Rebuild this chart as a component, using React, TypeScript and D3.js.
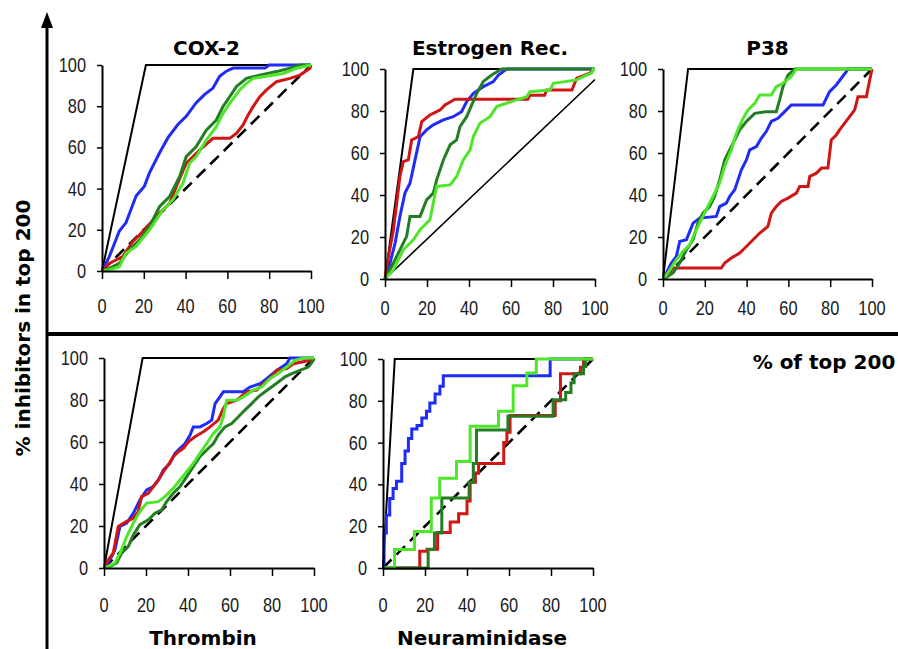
import React, { useEffect, useRef } from "react";
import * as d3 from "d3";

type Pt = [number, number];

const tickValues = [0, 20, 40, 60, 80, 100];
const titles = ["COX-2", "Estrogen Rec.", "P38", "Thrombin", "Neuraminidase"];

// COX-2
const cox2Ideal: Pt[] = [[0, 0], [21, 100], [100, 100]];
const cox2Blue: Pt[] = [[0, 0], [3.5, 7], [8.3, 19.4], [11.5, 23.5], [16.3, 36.4], [20.3, 41.2], [22.7, 47.6], [27.5, 57.3], [31.5, 64.6], [36.3, 71.1], [40.3, 75.1], [45, 81.6], [49, 85.6], [53.1, 88.8], [56.3, 94.5], [59.5, 97], [62.7, 98.5], [78, 98.5], [80, 100], [100, 100]];
const cox2Red: Pt[] = [[0, 0], [3.5, 3.7], [9.9, 7], [14.7, 14.2], [19.5, 19.1], [25.9, 26.4], [32.3, 32.8], [36, 42], [40.3, 52.3], [46.7, 58.7], [53.1, 64.4], [61.1, 64.4], [64.3, 66.8], [67.5, 70.9], [69.9, 75.7], [72.3, 79.8], [75.5, 84.6], [78.7, 87.9], [83.5, 91.9], [89.9, 93.5], [94.7, 95.1], [99.5, 98.4], [100, 100]];
const cox2Dark: Pt[] = [[0, 0], [3.5, 1.3], [8.3, 3.7], [13.1, 10.2], [17.9, 15], [22.7, 21.5], [27.5, 31.2], [32.3, 36.1], [37.1, 45.8], [40.3, 55.5], [45.1, 60.4], [49.9, 68.4], [54.7, 73.3], [57.9, 79.8], [61.1, 84.6], [64.3, 89.5], [69.1, 93.5], [75.5, 95.1], [83.5, 96.8], [89.9, 98.4], [94.7, 100], [100, 100]];
const cox2Light: Pt[] = [[0, 0], [3.5, 0.5], [8.3, 2.1], [11.5, 8.6], [16.3, 11.9], [22.7, 19.9], [29.1, 29.6], [33.9, 34.5], [38.7, 42.6], [41.9, 52.3], [45.1, 55.5], [49.9, 63.6], [54.7, 70.1], [57.9, 76.5], [61.1, 81.4], [65.9, 87.9], [69.1, 91.1], [72.3, 93.5], [77.1, 94.3], [86.7, 95.9], [93.1, 98.4], [100, 100]];

// Estrogen receptor
const esrIdeal: Pt[] = [[0, 0], [13.5, 100], [100, 100]];
const esrRandom: Pt[] = [[0, 0], [100, 95]];
const esrBlue: Pt[] = [[0, 0], [2.4, 7.6], [4.8, 17.1], [7.1, 29.8], [9.5, 40.9], [11.9, 45.6], [14.3, 56.7], [16.7, 67.8], [19.8, 71], [23, 73.4], [27.8, 75.8], [32.5, 77.3], [36.5, 79.7], [38.9, 84.5], [42.1, 88.4], [46.8, 91.6], [51.6, 94], [54, 97.1], [57.9, 100], [100, 100]];
const esrRed: Pt[] = [[0, 0], [0.8, 6], [4, 23.5], [7.1, 48.8], [8.7, 55.9], [11.1, 56.7], [12.7, 66.2], [15.9, 67.8], [17.5, 75], [21.4, 78.1], [26.2, 80.5], [28.6, 82.9], [33.3, 85.6], [68, 85.6], [69, 87.5], [76, 87.5], [77, 90], [89, 90], [91.3, 95.6], [97.6, 98], [99.2, 99.5]];
const esrDark: Pt[] = [[0, 0], [4, 7.6], [7.1, 13.9], [10.3, 20.3], [11.9, 29.8], [16.7, 29.8], [19.8, 37.7], [23, 40.9], [24.6, 47.2], [27.8, 56.7], [31, 63.9], [34.1, 66.2], [35.7, 72.6], [38.9, 77.3], [41.3, 82.9], [43.7, 88.4], [46.8, 94], [50.8, 97.1], [55.6, 100], [100, 100]];
const esrLight: Pt[] = [[0, 0], [4, 4.4], [8.7, 13.9], [13.5, 18.7], [16.7, 23.5], [21.4, 28.2], [24.6, 44.1], [31, 44.8], [34.1, 48.8], [37.3, 56.7], [40.5, 61.5], [42.1, 67.8], [45.2, 74.2], [50, 77.3], [53.2, 82.1], [57.9, 83.7], [62.7, 85.3], [67.5, 86.8], [69, 89.2], [78.6, 90], [80.2, 93.2], [91.3, 94.8], [94.4, 96.4], [98.4, 98], [99.2, 100], [100, 100]];

// P38
const p38Ideal: Pt[] = [[0, 0], [12, 100], [100, 100]];
const p38Blue: Pt[] = [[0, 0], [1.6, 2.9], [4, 7.6], [6.4, 10.8], [8, 17.9], [11.2, 18.7], [12.8, 22.7], [14.4, 26.6], [17.5, 29], [25.5, 29.8], [27.1, 34.5], [30.3, 36.1], [31.9, 39.3], [34.3, 42.5], [35.9, 47.2], [37.5, 52], [39.9, 56.7], [41.5, 61.5], [44.7, 63.1], [47, 67], [49.4, 70.2], [51.8, 75], [55, 76.5], [58.2, 79.7], [61.4, 82.9], [76.6, 82.9], [79.7, 89.2], [82.9, 92.4], [85.3, 95.6], [87.7, 98.7], [88.5, 100], [100, 100]];
const p38Red: Pt[] = [[0, 0], [3.2, 3.6], [4.8, 5.2], [27.9, 5.2], [29.5, 7.6], [32.7, 10], [36.7, 12.4], [39.9, 15.5], [43.1, 18.7], [46.3, 21.9], [50.2, 25], [51.8, 31.4], [54.2, 34.5], [56.6, 36.9], [59.8, 38.5], [63.8, 40.9], [65.4, 44.1], [69.4, 44.1], [70.2, 48.8], [73.4, 50.4], [75.8, 52.8], [78.9, 52.8], [80.5, 66.2], [82.9, 68.6], [84.5, 71], [86.9, 74.2], [89.3, 77.3], [91.7, 80.5], [93.3, 86.8], [97.3, 86.8], [98.9, 94.8], [100, 100]];
const p38Dark: Pt[] = [[0, 0], [2.4, 1.3], [4.8, 2.9], [8, 7.6], [11.2, 13.9], [14.4, 18.7], [16.7, 26.6], [19.1, 31.4], [22.3, 34.5], [24.7, 39.3], [27.1, 47.2], [29.5, 56.7], [31.9, 61.5], [34.3, 66.2], [36.7, 71], [39.9, 75], [43.9, 78.9], [49.4, 79.7], [54.2, 79.7], [55.8, 85.3], [57.4, 91.6], [59.8, 97.1], [63, 100], [100, 100]];
const p38Light: Pt[] = [[0, 0], [2.4, 2.9], [6.4, 9.2], [9.6, 13.2], [12.8, 16.3], [15.2, 21.9], [17.5, 26.6], [20.7, 33], [23.9, 39.3], [27.1, 45.6], [29.5, 53.6], [32.7, 61.5], [35.1, 69.4], [38.3, 76.5], [40.7, 80.5], [43.9, 83.7], [46.3, 87.6], [51.8, 87.6], [54.2, 91.6], [57.4, 93.2], [61.4, 96.4], [63.8, 100], [100, 100]];

// Thrombin
const thrIdeal: Pt[] = [[0, 0], [18.4, 100], [100, 100]];
const thrBlue: Pt[] = [[0, 0], [2.9, 4], [5.2, 8.7], [7.6, 19.8], [10.8, 21.4], [14, 26.1], [17.1, 32.4], [20.3, 37.2], [23.5, 38.8], [25.9, 41.9], [28.3, 46.7], [31.4, 49.8], [33.8, 54.6], [36.2, 57], [38.6, 59.3], [41, 63.3], [42.5, 67.2], [45.7, 67.2], [48.9, 68.8], [51.3, 70.4], [52.9, 78.3], [55.2, 81.5], [56.8, 83.9], [66.3, 83.9], [69.5, 86.2], [74.3, 87.8], [77.5, 90.2], [82.2, 94.1], [87, 97.3], [88.6, 100], [100, 100]];
const thrRed: Pt[] = [[0, 0], [2.1, 4], [4.4, 7.1], [6.8, 19.8], [10.8, 22.2], [14, 23.7], [16.3, 26.9], [17.9, 34], [21.1, 35.6], [23.5, 38.8], [25.9, 41.9], [28.3, 45.9], [30.6, 49.1], [33, 53], [35.4, 55.4], [37.8, 57], [40.2, 60.1], [43.3, 62.5], [47.3, 64.9], [50.5, 67.2], [54.4, 70.4], [56.8, 75.9], [58.4, 78.3], [63.2, 79.9], [67.9, 83.9], [72.7, 84.7], [75.9, 87.8], [79, 90.2], [82.2, 94.1], [87, 95], [90.2, 97.3], [98.1, 98.9], [100, 100]];
const thrDark: Pt[] = [[0, 0], [2.9, 0.8], [6, 2.4], [8.4, 7.1], [11.6, 10.3], [14, 15.8], [17.1, 20.6], [21.1, 22.9], [24.3, 26.1], [27.5, 27.7], [29.8, 31.6], [33, 35.6], [36.2, 38.8], [39.4, 43.5], [42.5, 48.3], [45.7, 53], [48.9, 56.2], [52.1, 59.3], [54.4, 63.3], [57.6, 67.2], [60.8, 68.8], [64, 72], [67.1, 75.2], [70.3, 78.3], [73.5, 81.5], [76.7, 83.9], [79.8, 86.2], [83, 88.6], [86.2, 91], [89.4, 92.6], [93.3, 94.1], [97.3, 95.7], [99.7, 98.9], [100, 100]];
const thrLight: Pt[] = [[0, 0], [2.1, 0.8], [5.2, 2.4], [8.4, 8.7], [10.8, 15], [14, 21.4], [17.1, 26.9], [20.3, 30.9], [25.9, 31.6], [29, 34], [33, 38], [36.2, 41.9], [39.4, 45.9], [42.5, 49.8], [45.7, 54.6], [48.9, 59.3], [52.1, 64.1], [55.2, 67.2], [56.8, 72], [58.4, 79.9], [63.2, 79.9], [66.3, 81.5], [71.1, 84.7], [75.1, 86.2], [79, 90.2], [83, 92.6], [87, 95.7], [91, 98.9], [94.9, 100], [100, 100]];

// Neuraminidase (step corners)
const neuIdeal: Pt[] = [[0, 0], [5.6, 100], [100, 100]];
const neuBlue: Pt[] = [[0, 0], [0.5, 16.7], [1.6, 25.4], [3.2, 33.3], [4.8, 38], [6.4, 41.5], [8.9, 50], [10.5, 56], [12.1, 62], [13.7, 66.5], [16.2, 68.2], [18.5, 71.8], [20.7, 75], [22.3, 78.9], [24.8, 83.3], [27.1, 87], [28.7, 92], [79.6, 100], [100, 100]];
const neuRed: Pt[] = [[0, 0], [17.5, 8], [21, 9], [26, 17], [32, 22], [36, 26], [40, 32], [41.5, 41], [44, 45.5], [45.5, 50], [57.5, 60], [59, 65], [60.5, 73], [82, 80], [84.5, 93], [94, 96], [95.5, 100], [100, 100]];
const neuDark: Pt[] = [[0, 0], [21.5, 8.8], [24.5, 16.7], [28, 33.5], [41, 41], [43, 50], [44.5, 66], [59.5, 72.6], [81, 80.5], [87, 84], [89.5, 88.6], [91, 93], [95.5, 96.4], [96.5, 100], [100, 100]];
const neuLight: Pt[] = [[0, 0], [5.5, 8.8], [15, 17.5], [23, 33.5], [27, 43], [35, 51], [41.5, 67.8], [55, 75], [62, 87.2], [68.5, 93.3], [73, 100], [100, 100]];

const diagonal: Pt[] = [[0, 0], [100, 100]];

const panels = [
  { title: titles[0], top: true, left: 102, right: 311, y0: 271, y100: 65, labelY: 313, ideal: cox2Ideal, random: diagonal, dashed: true, step: false, blue: cox2Blue, red: cox2Red, dark: cox2Dark, light: cox2Light },
  { title: titles[1], top: true, left: 385, right: 595, y0: 279, y100: 69, labelY: 315, ideal: esrIdeal, random: esrRandom, dashed: false, step: false, blue: esrBlue, red: esrRed, dark: esrDark, light: esrLight },
  { title: titles[2], top: true, left: 663, right: 872, y0: 279, y100: 69, labelY: 315, ideal: p38Ideal, random: diagonal, dashed: true, step: false, blue: p38Blue, red: p38Red, dark: p38Dark, light: p38Light },
  { title: titles[3], top: false, left: 104, right: 314, y0: 568, y100: 358, labelY: 612, ideal: thrIdeal, random: diagonal, dashed: true, step: false, blue: thrBlue, red: thrRed, dark: thrDark, light: thrLight },
  { title: titles[4], top: false, left: 383, right: 593, y0: 568, y100: 359, labelY: 612, ideal: neuIdeal, random: diagonal, dashed: true, step: true, blue: neuBlue, red: neuRed, dark: neuDark, light: neuLight },
];

const colors = { blue: "#1f2cf5", red: "#d01515", dark: "#237d23", light: "#4ee62a" };
const boldFont = "'DejaVu Sans', Verdana, sans-serif";
const tickFont = "'Liberation Sans', Arial, sans-serif";

const W = 898, H = 649;

export default function App() {
  const svgRef = useRef<SVGSVGElement>(null);

  useEffect(() => {
    const svg = d3.select(svgRef.current);
    svg.selectAll("*").remove();

    svg.append("rect").attr("width", W).attr("height", H).attr("fill", "#fff");

    panels.forEach((p) => {
      const x = d3.scaleLinear().domain([0, 100]).range([p.left, p.right]);
      const y = d3.scaleLinear().domain([0, 100]).range([p.y0, p.y100]);
      const g = svg.append("g");

      const lin = d3.line<Pt>().x((d) => x(d[0])).y((d) => y(d[1]));
      const curve = d3.line<Pt>().x((d) => x(d[0])).y((d) => y(d[1])).curve(p.step ? d3.curveStepAfter : d3.curveLinear);

      // ideal
      g.append("path").attr("d", lin(p.ideal)).attr("fill", "none").attr("stroke", "#000").attr("stroke-width", 2);
      // random
      g.append("path").attr("d", lin(p.random)).attr("fill", "none").attr("stroke", "#000")
        .attr("stroke-width", p.dashed ? 2.6 : 1.6)
        .attr("stroke-dasharray", p.dashed ? "12,7" : null);

      (["blue", "red", "dark", "light"] as const).forEach((k) => {
        g.append("path").attr("d", curve(p[k])).attr("fill", "none").attr("stroke", colors[k])
          .attr("stroke-width", 3).attr("stroke-linejoin", "miter");
      });

      // axes (labels drawn separately so they can be narrowed)
      const ay = g.append("g").attr("transform", `translate(${p.left},0)`)
        .call(d3.axisLeft(y).tickValues(tickValues).tickSize(5).tickSizeOuter(0).tickFormat(() => ""));
      const ax = g.append("g").attr("transform", `translate(0,${p.y0})`)
        .call(d3.axisBottom(x).tickValues(tickValues).tickSize(8).tickSizeOuter(0).tickFormat(() => ""));
      [ay, ax].forEach((a) => {
        a.select(".domain").attr("stroke", "#000").attr("stroke-width", 2);
        a.selectAll(".tick line").attr("stroke", "#000").attr("stroke-width", 1.5);
      });

      tickValues.forEach((t) => {
        g.append("text").attr("transform", `translate(${p.left - 16},${y(t) + 7}) scale(0.82,1)`)
          .attr("text-anchor", "end").attr("fill", "#1a1a1a")
          .style("font-family", tickFont).style("font-size", "20px").text(t);
        g.append("text").attr("transform", `translate(${x(t)},${p.labelY}) scale(0.82,1)`)
          .attr("text-anchor", "middle").attr("fill", "#1a1a1a")
          .style("font-family", tickFont).style("font-size", "20px").text(t);
      });

      // title
      const cx = (p.left + p.right) / 2;
      svg.append("text").attr("x", p.top ? cx : cx - 6).attr("y", p.top ? 55 : 645).attr("text-anchor", "middle")
        .style("font-family", boldFont).style("font-weight", "bold").style("font-size", "20px").text(p.title);
    });

    // big axes
    svg.append("line").attr("x1", 47).attr("x2", 47).attr("y1", 24).attr("y2", H).attr("stroke", "#000").attr("stroke-width", 3);
    svg.append("path").attr("d", "M47,12L41,28L53,28Z").attr("fill", "#000");
    svg.append("line").attr("x1", 47).attr("x2", W).attr("y1", 334).attr("y2", 334).attr("stroke", "#000").attr("stroke-width", 4);

    svg.append("text").attr("transform", "translate(30,328) rotate(-90)").attr("text-anchor", "middle")
      .style("font-family", boldFont).style("font-weight", "bold").style("font-size", "20px").text("% inhibitors in top 200");
    svg.append("text").attr("x", 824).attr("y", 369).attr("text-anchor", "middle")
      .style("font-family", boldFont).style("font-weight", "bold").style("font-size", "20px").text("% of top 200");
  }, []);

  return (
    <div style={{ position: "absolute", left: 0, top: 0 }}>
      <svg ref={svgRef} width={W} height={H} />
    </div>
  );
}
